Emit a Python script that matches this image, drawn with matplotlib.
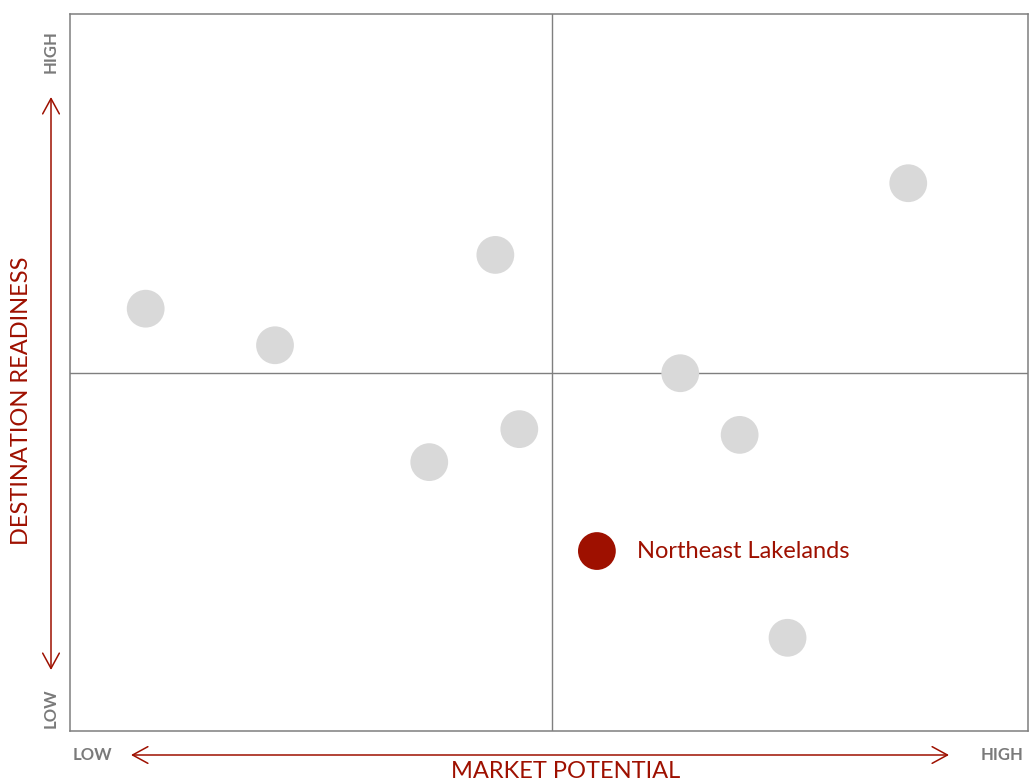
import matplotlib
matplotlib.use("Agg")
import matplotlib.pyplot as plt
from matplotlib.patches import FancyArrowPatch

plt.rcParams['font.family'] = ['Lato', 'DejaVu Sans']

# Posiciones de los destinos (0-100 en cada eje)
market_potential = [7.9, 21.4, 44.4, 37.5, 46.9, 63.7, 69.9, 87.5, 74.9]
destination_readiness = [58.9, 53.8, 66.4, 37.5, 42.1, 49.9, 41.3, 76.4, 13.0]

highlight_name = "Northeast Lakelands"
highlight_x = 55.0
highlight_y = 25.1

red = '#9e1000'
gray_text = '#7a7a7a'

fig = plt.figure(figsize=(10.31, 7.84), dpi=100)
ax = fig.add_axes([70 / 1031, 1 - 731 / 784, 958 / 1031, 717 / 784])
ax.set_xlim(0, 100)
ax.set_ylim(0, 100)
ax.set_xticks([])
ax.set_yticks([])
for s in ax.spines.values():
    s.set_color('#7f7f7f')
    s.set_linewidth(1.1)

# Líneas de cuadrantes
ax.axvline(50.3, color='#7f7f7f', linewidth=1.0, zorder=1)
ax.axhline(50, color='#7f7f7f', linewidth=1.0, zorder=1)

# Puntos
ax.scatter(market_potential, destination_readiness, s=740, color='#d9d9d9',
           edgecolors='none', zorder=3)
ax.scatter([highlight_x], [highlight_y], s=740, color=red, edgecolors='none', zorder=4)
ax.annotate(highlight_name, (highlight_x, highlight_y), xytext=(29, 0),
            textcoords='offset points', va='center', ha='left',
            color=red, fontsize=17)

# Flechas de los ejes (cabezas abiertas)
arrow_kw = dict(arrowstyle='<->,head_length=0.55,head_width=0.3', color=red, lw=1.1,
                shrinkA=0, shrinkB=0, mutation_scale=20)
fig.add_artist(FancyArrowPatch((51, 114), (51, 687), transform=None, **arrow_kw))
fig.add_artist(FancyArrowPatch((131, 29), (949, 29), transform=None, **arrow_kw))

# Etiquetas
lab_kw = dict(color=gray_text, fontsize=12, fontweight='bold', ha='center', va='center')
fig.text(51 / 1031, 1 - 52 / 784, 'HIGH', rotation=90, **lab_kw)
fig.text(51 / 1031, 1 - 708 / 784, 'LOW', rotation=90, **lab_kw)
fig.text(92 / 1031, 1 - 755 / 784, 'LOW', **lab_kw)
fig.text(1002 / 1031, 1 - 755 / 784, 'HIGH', **lab_kw)

fig.text(566 / 1031, 1 - 772 / 784, 'MARKET POTENTIAL', ha='center', va='center',
         color=red, fontsize=17)
fig.text(22 / 1031, 1 - 401 / 784, 'DESTINATION READINESS', rotation=90,
         ha='center', va='center', color=red, fontsize=17)

fig.savefig('out.png', dpi=100)
